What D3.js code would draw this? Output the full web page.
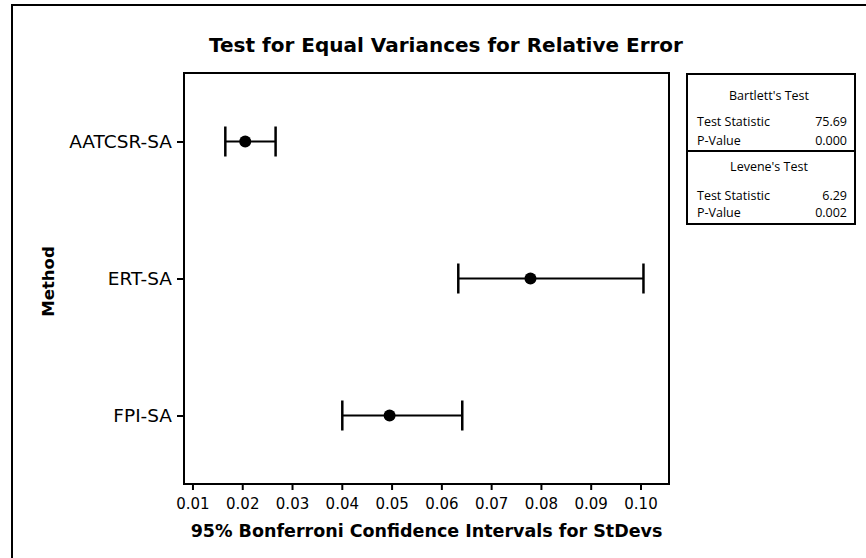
<!DOCTYPE html>
<html>
<head>
<meta charset="utf-8">
<script src="https://cdn.jsdelivr.net/npm/d3@7"></script>
<style>
  html, body { margin: 0; padding: 0; background: #fff; }
  svg { display: block; }
  text { fill: #000; }
</style>
</head>
<body>
<svg id="chart" width="866" height="558"></svg>
<script>
// ---------- data ----------
const methods = ["AATCSR-SA", "ERT-SA", "FPI-SA"];
const lowerCI = [0.0166, 0.0634, 0.0401];
const stdevEstimate = [0.0206, 0.0779, 0.0496];
const upperCI = [0.0267, 0.1006, 0.0642];
const xTickValues = [0.01, 0.02, 0.03, 0.04, 0.05, 0.06, 0.07, 0.08, 0.09, 0.10];

const testNames = ["Bartlett's Test", "Levene's Test"];
const statLabels = ["Test Statistic", "P-Value"];
const bartlettValues = ["75.69", "0.000"];
const leveneValues = ["6.29", "0.002"];

const titleText = "Test for Equal Variances for Relative Error";
const xTitleText = "95% Bonferroni Confidence Intervals for StDevs";
const yTitleText = "Method";

// ---------- layout ----------
const svg = d3.select("#chart");
const plot = { left: 184, top: 73, right: 669, bottom: 484 };
const fontMain = "'DejaVu Sans', Verdana, sans-serif";

// outer frame
svg.append("rect")
  .attr("x", 12).attr("y", 5)
  .attr("width", 870).attr("height", 600)
  .attr("fill", "none").attr("stroke", "#000").attr("stroke-width", 2);

// scales
const x = d3.scaleLinear().domain([0.0083, 0.10573]).range([plot.left, plot.right]);
const y = d3.scalePoint().domain(methods).range([plot.top, plot.bottom]).padding(0.5);

// title
svg.append("text")
  .attr("x", 446).attr("y", 52)
  .attr("text-anchor", "middle")
  .style("font-family", fontMain).style("font-weight", "bold").style("font-size", "20px")
  .text(titleText);

// axes
const xAxis = svg.append("g")
  .attr("transform", `translate(0,${plot.bottom})`)
  .call(d3.axisBottom(x).tickValues(xTickValues).tickFormat(d3.format(".2f")).tickSize(6).tickPadding(8));
xAxis.select(".domain").remove();
xAxis.selectAll("line").attr("stroke", "#000").attr("stroke-width", 2);
xAxis.selectAll("text").style("font-family", fontMain).style("font-size", "15px");

const yAxis = svg.append("g")
  .attr("transform", `translate(${plot.left},0)`)
  .call(d3.axisLeft(y).tickSize(7).tickPadding(5));
yAxis.select(".domain").remove();
yAxis.selectAll("line").attr("stroke", "#000").attr("stroke-width", 2);
yAxis.selectAll("text").style("font-family", fontMain).style("font-size", "18.5px");

// plot frame
svg.append("rect")
  .attr("x", plot.left).attr("y", plot.top)
  .attr("width", plot.right - plot.left).attr("height", plot.bottom - plot.top)
  .attr("fill", "none").attr("stroke", "#000").attr("stroke-width", 2);

// axis titles
svg.append("text")
  .attr("x", (plot.left + plot.right) / 2).attr("y", 537)
  .attr("text-anchor", "middle")
  .style("font-family", fontMain).style("font-weight", "bold").style("font-size", "17.5px")
  .text(xTitleText);

svg.append("text")
  .attr("transform", `translate(54,${(plot.top + plot.bottom) / 2 + 3}) rotate(-90)`)
  .attr("text-anchor", "middle")
  .style("font-family", fontMain).style("font-weight", "bold").style("font-size", "16.5px")
  .text(yTitleText);

// intervals
const rows = methods.map((m, i) => ({ m, lo: lowerCI[i], est: stdevEstimate[i], hi: upperCI[i] }));
const g = svg.append("g");
rows.forEach(r => {
  const yy = y(r.m);
  g.append("line")
    .attr("x1", x(r.lo)).attr("x2", x(r.hi)).attr("y1", yy).attr("y2", yy)
    .attr("stroke", "#000").attr("stroke-width", 2);
  [r.lo, r.hi].forEach(v => {
    g.append("line")
      .attr("x1", x(v)).attr("x2", x(v)).attr("y1", yy - 15).attr("y2", yy + 15)
      .attr("stroke", "#000").attr("stroke-width", 2.5);
  });
  g.append("circle")
    .attr("cx", x(r.est)).attr("cy", yy).attr("r", 6).attr("fill", "#000");
});

// legend box
const lg = { left: 687, top: 74, right: 855, bottom: 224, divider: 151 };
svg.append("rect")
  .attr("x", lg.left).attr("y", lg.top)
  .attr("width", lg.right - lg.left).attr("height", lg.bottom - lg.top)
  .attr("fill", "none").attr("stroke", "#000").attr("stroke-width", 2);
svg.append("line")
  .attr("x1", lg.left).attr("x2", lg.right).attr("y1", lg.divider).attr("y2", lg.divider)
  .attr("stroke", "#000").attr("stroke-width", 2);

const fontLegend = "'Open Sans', 'Noto Sans', sans-serif";
const legendSize = "12.5px";
const blocks = [
  { name: testNames[0], headY: 100, rowsY: [126, 145], values: bartlettValues },
  { name: testNames[1], headY: 171, rowsY: [200, 217], values: leveneValues }
];
blocks.forEach(b => {
  svg.append("text")
    .attr("x", (lg.left + lg.right) / 2 - 2).attr("y", b.headY)
    .attr("text-anchor", "middle")
    .style("font-family", fontLegend).style("font-size", legendSize)
    .text(b.name);
  statLabels.forEach((lab, i) => {
    svg.append("text")
      .attr("x", lg.left + 10).attr("y", b.rowsY[i])
      .style("font-family", fontLegend).style("font-size", legendSize)
      .text(lab);
    svg.append("text")
      .attr("x", lg.right - 8).attr("y", b.rowsY[i])
      .attr("text-anchor", "end")
      .style("font-family", fontLegend).style("font-size", legendSize)
      .text(b.values[i]);
  });
});
</script>
</body>
</html>
